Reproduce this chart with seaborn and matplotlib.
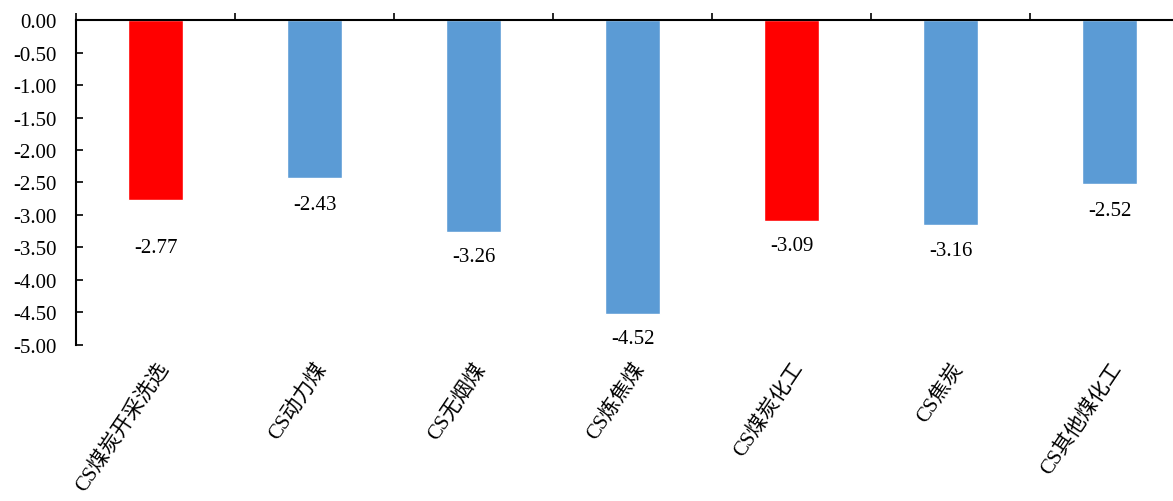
import matplotlib
matplotlib.use("Agg")
import matplotlib.pyplot as plt
import seaborn as sns
from matplotlib.ticker import FixedLocator, FormatStrFormatter

categories = ["CS煤炭开采洗选", "CS动力煤", "CS无烟煤", "CS炼焦煤", "CS煤炭化工", "CS焦炭", "CS其他煤化工"]
values = [-2.77, -2.43, -3.26, -4.52, -3.09, -3.16, -2.52]
bar_colors = ["#FF0000", "#5B9BD5", "#5B9BD5", "#5B9BD5", "#FF0000", "#5B9BD5", "#5B9BD5"]
label_offsets = [-34, -19, -18, -18, -18, -18, -19]  # points below the bar end
yticks = [0.0, -0.5, -1.0, -1.5, -2.0, -2.5, -3.0, -3.5, -4.0, -4.5, -5.0]

sns.set_theme(style="white")
fonts = ["Liberation Serif", "Noto Sans CJK SC"]
plt.rcParams["font.family"] = fonts

fig = plt.figure(figsize=(11.73, 5.02), dpi=100)
ax = fig.add_axes([0.0648, 0.311, 0.949, 0.647])

sns.barplot(x=categories, y=values, hue=categories, palette=bar_colors,
            legend=False, width=0.345, saturation=1, ax=ax)

ax.set_ylim(-5.0, 0.0)
ax.set_xlim(-0.5, len(categories) - 0.5)
ax.yaxis.set_major_locator(FixedLocator(yticks))
ax.yaxis.set_major_formatter(FormatStrFormatter("%.2f"))

for s in ["bottom", "right"]:
    ax.spines[s].set_visible(False)
for s in ["left", "top"]:
    ax.spines[s].set_color("black")
    ax.spines[s].set_linewidth(1.5)

ax.tick_params(axis="y", which="major", left=True, direction="in", length=5,
               width=1.2, color="black", labelsize=15, pad=14, labelcolor="black")
ax.set_xticks(range(len(categories)))
ax.set_xticklabels(categories, rotation=56, ha="right", va="top",
                   rotation_mode="anchor", fontsize=15, color="black")
ax.tick_params(axis="x", which="major", bottom=True, top=False, length=0, pad=10)
ax.xaxis.set_minor_locator(FixedLocator([i - 0.5 for i in range(len(categories) + 1)]))
ax.tick_params(axis="x", which="minor", top=True, bottom=False, direction="out",
               length=5, width=1.2, color="black")

for i, (v, off) in enumerate(zip(values, label_offsets)):
    ax.annotate(f"{v:.2f}", xy=(i, v), xytext=(0, off), textcoords="offset points",
                ha="center", va="center", fontsize=15, color="black")

ax.set_xlabel("")
ax.set_ylabel("")
fig.savefig("out.png", dpi=100)
